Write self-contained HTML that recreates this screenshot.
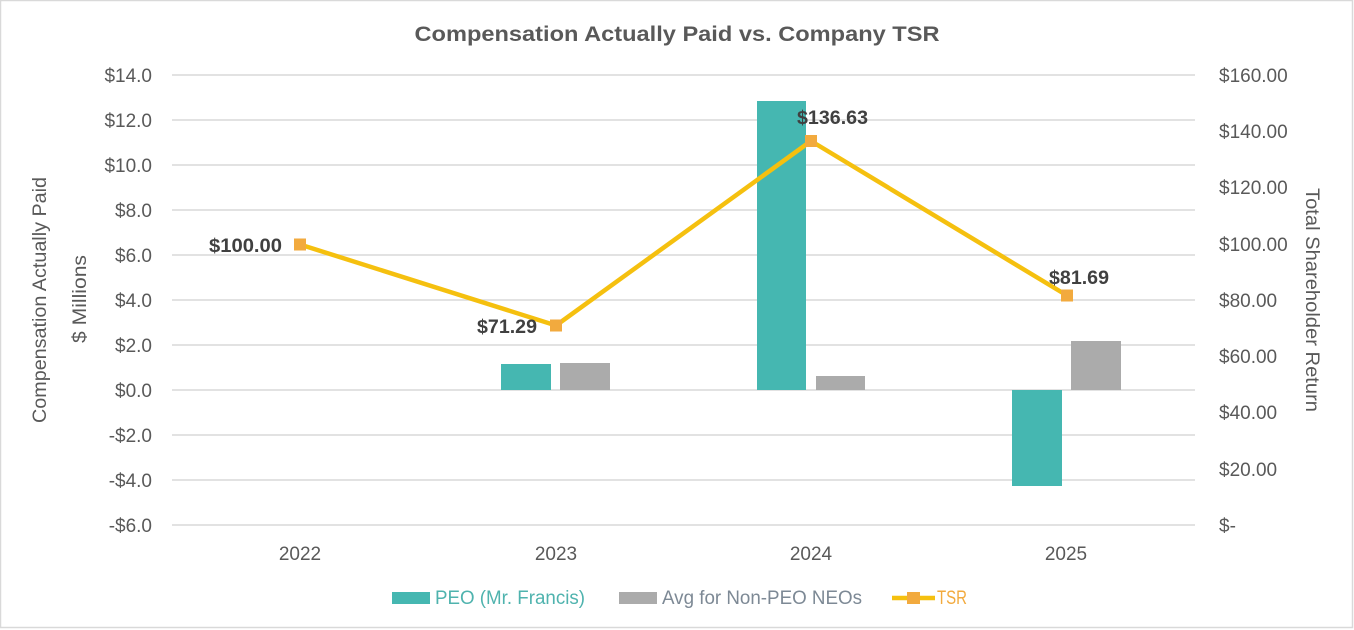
<!DOCTYPE html>
<html>
<head>
<meta charset="utf-8">
<style>
html,body{margin:0;padding:0;background:#fff;}
svg{display:block;}
text{font-family:"Liberation Sans",sans-serif;fill:#595959;}
</style>
</head>
<body>
<svg width="1354" height="630" viewBox="0 0 1354 630" xmlns="http://www.w3.org/2000/svg">
<rect x="0" y="0" width="1354" height="630" fill="#fff"/>
<rect x="0.5" y="0.5" width="1352" height="627" fill="none" stroke="#d9d9d9" stroke-width="1.5"/>

<!-- Title -->
<text x="677" y="41" font-size="21" font-weight="bold" text-anchor="middle" textLength="525" lengthAdjust="spacingAndGlyphs">Compensation Actually Paid vs. Company TSR</text>

<!-- Gridlines -->
<g stroke="#d9d9d9" stroke-width="1.5">
<line x1="172" y1="75" x2="1195" y2="75"/>
<line x1="172" y1="120" x2="1195" y2="120"/>
<line x1="172" y1="165" x2="1195" y2="165"/>
<line x1="172" y1="210" x2="1195" y2="210"/>
<line x1="172" y1="255" x2="1195" y2="255"/>
<line x1="172" y1="300" x2="1195" y2="300"/>
<line x1="172" y1="345" x2="1195" y2="345"/>
<line x1="172" y1="390" x2="1195" y2="390"/>
<line x1="172" y1="435" x2="1195" y2="435"/>
<line x1="172" y1="480" x2="1195" y2="480"/>
<line x1="172" y1="525" x2="1195" y2="525"/>
</g>

<!-- Left tick labels -->
<g font-size="19" text-anchor="end">
<text x="152" y="82">$14.0</text>
<text x="152" y="127">$12.0</text>
<text x="152" y="172">$10.0</text>
<text x="152" y="217">$8.0</text>
<text x="152" y="262">$6.0</text>
<text x="152" y="307">$4.0</text>
<text x="152" y="352">$2.0</text>
<text x="152" y="397">$0.0</text>
<text x="152" y="442">-$2.0</text>
<text x="152" y="487">-$4.0</text>
<text x="152" y="532">-$6.0</text>
</g>

<!-- Right tick labels -->
<g font-size="19" text-anchor="start">
<text x="1219" y="82">$160.00</text>
<text x="1219" y="138">$140.00</text>
<text x="1219" y="194">$120.00</text>
<text x="1219" y="251">$100.00</text>
<text x="1219" y="307">$80.00</text>
<text x="1219" y="363">$60.00</text>
<text x="1219" y="419">$40.00</text>
<text x="1219" y="476">$20.00</text>
<text x="1219" y="532">$-</text>
</g>

<!-- Axis titles -->
<text transform="translate(46,300) rotate(-90)" font-size="19" text-anchor="middle" textLength="246" lengthAdjust="spacingAndGlyphs">Compensation Actually Paid</text>
<text transform="translate(86,299) rotate(-90)" font-size="19" text-anchor="middle" textLength="88" lengthAdjust="spacingAndGlyphs">$  Millions</text>
<text transform="translate(1306,300) rotate(90)" font-size="19" text-anchor="middle" textLength="224" lengthAdjust="spacingAndGlyphs">Total Shareholder Return</text>

<!-- X labels -->
<g font-size="19" text-anchor="middle">
<text x="300" y="560">2022</text>
<text x="556" y="560">2023</text>
<text x="811" y="560">2024</text>
<text x="1066" y="560">2025</text>
</g>

<!-- Bars -->
<g fill="#45b7b1">
<rect x="501" y="364" width="50" height="26"/>
<rect x="757" y="101" width="49" height="289"/>
<rect x="1012" y="390" width="50" height="96"/>
</g>
<g fill="#ababab">
<rect x="560" y="363" width="50" height="27"/>
<rect x="816" y="376" width="49" height="14"/>
<rect x="1071" y="341" width="50" height="49"/>
</g>

<!-- TSR line -->
<polyline points="300,244.5 556,325.5 811,141 1067,295.5" fill="none" stroke="#f5c00f" stroke-width="4.5" stroke-linejoin="round"/>
<g fill="#f2aa3e">
<rect x="294" y="238.5" width="12" height="12"/>
<rect x="550" y="319.5" width="12" height="12"/>
<rect x="805" y="135" width="12" height="12"/>
<rect x="1061" y="289.5" width="12" height="12"/>
</g>

<!-- Data labels -->
<g font-size="19" font-weight="bold">
<text x="209" y="252" style="fill:#404040" textLength="73" lengthAdjust="spacingAndGlyphs">$100.00</text>
<text x="477" y="333" style="fill:#404040" textLength="60" lengthAdjust="spacingAndGlyphs">$71.29</text>
<text x="797" y="124" style="fill:#404040" textLength="71" lengthAdjust="spacingAndGlyphs">$136.63</text>
<text x="1049" y="284" style="fill:#404040" textLength="60" lengthAdjust="spacingAndGlyphs">$81.69</text>
</g>

<!-- Legend -->
<rect x="392" y="592" width="38" height="12" fill="#45b7b1"/>
<text x="435" y="604" font-size="19" style="fill:#4fb3ae" textLength="150" lengthAdjust="spacingAndGlyphs">PEO (Mr. Francis)</text>
<rect x="619" y="592" width="38" height="12" fill="#ababab"/>
<text x="662" y="604" font-size="19" style="fill:#7d8995" textLength="200" lengthAdjust="spacingAndGlyphs">Avg for Non-PEO NEOs</text>
<line x1="892" y1="598" x2="935" y2="598" stroke="#f5c00f" stroke-width="4.5"/>
<rect x="907" y="592" width="13" height="12" fill="#f2aa3e"/>
<text x="937" y="604" font-size="19" style="fill:#f2aa3e" textLength="30" lengthAdjust="spacingAndGlyphs">TSR</text>
</svg>
</body>
</html>
